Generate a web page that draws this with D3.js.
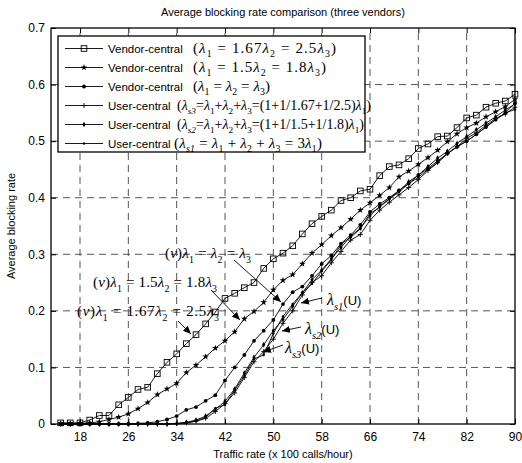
<!DOCTYPE html>
<html><head><meta charset="utf-8">
<script src="https://cdn.jsdelivr.net/npm/d3@7"></script>
<style>body{margin:0;background:#fff}</style>
</head><body>
<svg id="c" width="522" height="463" xmlns="http://www.w3.org/2000/svg"></svg>
<script>
// ---------- data ----------
const traffic = [14.8,16.4,18,19.6,21.2,22.8,24.4,26,27.6,29.2,30.8,32.4,34,35.6,37.2,38.8,40.4,42,43.6,45.2,
  46.8,48.4,50,51.6,53.2,54.8,56.4,58,59.6,61.2,62.8,64.4,66,67.6,69.2,70.8,72.4,74,75.6,77.2,78.8,80.4,82,83.6,85.2,86.8,88.4,90];
const vendor167 = [0.002,0.002,0.002,0.007,0.015,0.015,0.034,0.047,0.061,0.065,0.089,0.109,0.124,0.142,0.158,0.177,0.198,0.222,0.231,0.241,
  0.250,0.275,0.292,0.302,0.315,0.336,0.354,0.367,0.378,0.395,0.400,0.412,0.415,0.439,0.455,0.458,0.469,0.487,0.495,0.508,0.509,0.524,0.541,0.546,0.560,0.567,0.571,0.583];
const vendor15 = [0.001,0.001,0.001,0.002,0.004,0.008,0.012,0.018,0.027,0.038,0.052,0.062,0.072,0.091,0.104,0.119,0.134,0.147,0.163,0.186,
  0.199,0.215,0.237,0.254,0.264,0.283,0.302,0.317,0.333,0.347,0.362,0.378,0.391,0.404,0.418,0.437,0.447,0.459,0.471,0.484,0.499,0.513,0.524,0.532,0.543,0.552,0.561,0.574];
const vendorEq = [0,0,0,0,0,0,0,0,0.001,0.002,0.004,0.008,0.014,0.025,0.030,0.041,0.051,0.077,0.100,0.122,
  0.147,0.165,0.184,0.212,0.233,0.243,0.262,0.283,0.298,0.319,0.334,0.352,0.375,0.389,0.400,0.413,0.425,0.440,0.452,0.465,0.478,0.490,0.500,0.512,0.525,0.538,0.550,0.567];
const userS3 = [0,0,0,0,0,0,0,0,0,0,0,0,0.001,0.002,0.005,0.010,0.022,0.036,0.055,0.082,
  0.110,0.128,0.150,0.178,0.200,0.228,0.250,0.262,0.285,0.305,0.325,0.335,0.360,0.378,0.392,0.405,0.418,0.432,0.448,0.462,0.478,0.490,0.505,0.515,0.528,0.540,0.548,0.560];
const userS2 = [0,0,0,0,0,0,0,0,0,0,0,0,0.001,0.003,0.007,0.014,0.026,0.040,0.062,0.090,
  0.118,0.140,0.165,0.185,0.208,0.232,0.255,0.272,0.292,0.312,0.332,0.346,0.368,0.385,0.398,0.412,0.428,0.440,0.455,0.470,0.482,0.496,0.508,0.520,0.532,0.543,0.555,0.566];
const userS1 = [0,0,0,0,0,0,0,0,0,0,0,0,0,0.002,0.005,0.012,0.028,0.034,0.060,0.085,
  0.115,0.122,0.160,0.190,0.212,0.232,0.248,0.270,0.290,0.318,0.330,0.345,0.372,0.383,0.398,0.410,0.425,0.436,0.450,0.462,0.478,0.490,0.500,0.512,0.525,0.538,0.550,0.556];
const xTicks = [18,26,34,42,50,58,66,74,82,90];
const yTicks = [0,0.1,0.2,0.3,0.4,0.5,0.6,0.7];
const seriesNames = ["Vendor-central","Vendor-central","Vendor-central","User-central","User-central","User-central"];
const seriesFormulas = [
  "(λ_1 = 1.67λ_2 = 2.5λ_3)",
  "(λ_1 = 1.5λ_2 = 1.8λ_3)",
  "(λ_1 = λ_2 = λ_3)",
  "(λ_{s3}=λ_1+λ_2+λ_3=(1+1/1.67+1/2.5)λ_1)",
  "(λ_{s2}=λ_1+λ_2+λ_3=(1+1/1.5+1/1.8)λ_1)",
  "(λ_{s1} = λ_1 + λ_2 + λ_3 = 3λ_1)"
];
const seriesValues = [vendor167, vendor15, vendorEq, userS3, userS2, userS1];
const seriesMarkers = ["square","star","dot","plus","smalldot","tinydot"];

// ---------- layout ----------
const svg = d3.select("#c");
const L=51, R=515, T=28, B=424;
const x = d3.scaleLinear([13.2,90],[L,R]);
const y = d3.scaleLinear([0,0.7],[B,T]);
const SANS = "'Liberation Sans', Arial, sans-serif";
const SERIF = "'Liberation Serif', 'Times New Roman', serif";

svg.append("rect").attr("width",522).attr("height",463).attr("fill","#fff");

// grid
const grid = svg.append("g").attr("stroke","#555").attr("stroke-width",1).attr("stroke-dasharray","7,5");
grid.selectAll("line.gx").data(xTicks.filter(d=>d<90)).join("line")
  .attr("x1",d=>x(d)).attr("x2",d=>x(d)).attr("y1",B).attr("y2",T);
grid.selectAll("line.gy").data(yTicks.filter(d=>d>0&&d<0.7)).join("line")
  .attr("y1",d=>y(d)).attr("y2",d=>y(d)).attr("x1",L).attr("x2",R);

// axes
const fmt = d => d===0 ? "0" : d3.format(".1f")(d);
const ax = svg.append("g").attr("transform",`translate(0,${B})`)
  .call(d3.axisBottom(x).tickValues(xTicks).tickSize(-5).tickSizeOuter(0).tickPadding(8));
const ay = svg.append("g").attr("transform",`translate(${L},0)`)
  .call(d3.axisLeft(y).tickValues(yTicks).tickFormat(fmt).tickSize(-5).tickSizeOuter(0).tickPadding(6));
const at = svg.append("g").attr("transform",`translate(0,${T})`)
  .call(d3.axisTop(x).tickValues(xTicks).tickSize(-5).tickSizeOuter(0).tickFormat(""));
const ar = svg.append("g").attr("transform",`translate(${R},0)`)
  .call(d3.axisRight(y).tickValues(yTicks).tickSize(-5).tickSizeOuter(0).tickFormat(""));
[ax,ay,at,ar].forEach(g=>{
  g.select(".domain").remove();
  g.selectAll("text").attr("font-family",SANS).attr("font-size",12).attr("fill","#000");
  g.selectAll("line").attr("stroke","#000");
});
svg.append("rect").attr("x",L).attr("y",T).attr("width",R-L).attr("height",B-T)
  .attr("fill","none").attr("stroke","#000").attr("stroke-width",1.3);

// markers
function drawMarker(g, kind, cx, cy){
  if(kind==="square") g.append("rect").attr("x",cx-2.8).attr("y",cy-2.8).attr("width",5.6).attr("height",5.6)
      .attr("fill","none").attr("stroke","#000").attr("stroke-width",0.9);
  else if(kind==="star") g.append("path").attr("d",d3.symbol(d3.symbolStar,14)()).attr("transform",`translate(${cx},${cy})`).attr("fill","#000");
  else if(kind==="dot") g.append("circle").attr("cx",cx).attr("cy",cy).attr("r",1.9).attr("fill","#000");
  else if(kind==="plus") g.append("path").attr("d",`M${cx-2.5},${cy}H${cx+2.5}M${cx},${cy-2.5}V${cy+2.5}`).attr("stroke","#000").attr("stroke-width",0.9);
  else if(kind==="smalldot") g.append("path").attr("d",d3.symbol(d3.symbolDiamond,9)()).attr("transform",`translate(${cx},${cy})`).attr("fill","#000");
  else if(kind==="tinydot") g.append("circle").attr("cx",cx).attr("cy",cy).attr("r",1.2).attr("fill","#000");
}

// lines
const line = d3.line().x((d,i)=>x(traffic[i])).y(d=>y(d));
const plot = svg.append("g");
seriesValues.forEach((vals,si)=>{
  plot.append("path").datum(vals).attr("d",line).attr("fill","none").attr("stroke","#000").attr("stroke-width",0.9);
});
seriesValues.forEach((vals,si)=>{
  const g = plot.append("g");
  vals.forEach((v,i)=>drawMarker(g, seriesMarkers[si], x(traffic[i]), y(v)));
});

// rich text helper
function rich(sel, str, size){
  const toks = str.match(/λ|_\{[^}]*\}|_.|\*[^*]*\*|[^λ_*]+/g);
  let shifted = false;
  toks.forEach(t=>{
    let ts;
    if(t.startsWith("_")){
      const s = t.startsWith("_{") ? t.slice(2,-1) : t.slice(1);
      ts = sel.append("tspan").text(s).attr("font-size",size*0.66).attr("dy",shifted?0:size*0.3);
      if(/^s/.test(s)) ts.attr("font-style","italic");
      shifted = true;
    } else {
      ts = sel.append("tspan").attr("font-size",size);
      if(shifted){ ts.attr("dy",-size*0.3); shifted=false; }
      if(t==="λ") ts.text("λ").attr("font-style","italic");
      else if(t.startsWith("*")) ts.text(t.slice(1,-1)).attr("font-style","italic");
      else ts.text(t);
    }
  });
  return sel;
}

// legend
const lg = svg.append("g");
lg.append("rect").attr("x",58).attr("y",36).attr("width",307).attr("height",116)
  .attr("fill","#fff").attr("stroke","#000").attr("stroke-width",1.3);
const rowY = [48.5,67.5,86.5,105.5,124.5,143.5];
const fx = [193,193,193,177,177,174];
const fw = [143,133,77,0,0,148];
const fs = [15,15,15,14,14,15];
seriesNames.forEach((nm,i)=>{
  const yy = rowY[i];
  lg.append("line").attr("x1",65).attr("x2",103).attr("y1",yy).attr("y2",yy).attr("stroke","#000").attr("stroke-width",0.9);
  drawMarker(lg, seriesMarkers[i], 84, yy);
  lg.append("text").attr("x",108).attr("y",yy+4).attr("font-family",SANS).attr("font-size",11.5).text(nm);
  const t = lg.append("text").attr("x",fx[i]).attr("y",yy+4).attr("font-family",SERIF);
  if(fw[i]) t.attr("textLength",fw[i]).attr("lengthAdjust","spacing");
  rich(t, seriesFormulas[i], fs[i]);
});

// annotations
svg.append("defs").append("marker").attr("id","ah").attr("markerUnits","userSpaceOnUse")
  .attr("markerWidth",9).attr("markerHeight",7).attr("refX",8).attr("refY",3.5).attr("orient","auto")
  .append("path").attr("d","M0,0L8,3.5L0,7Z").attr("fill","#000");
const notes = [
  {t:"(*v*)λ_1 = λ_2 = λ_3", tx:165, ty:258, w:86, x1:234, y1:260, x2:281, y2:302},
  {t:"(*v*)λ_1 = 1.5λ_2 = 1.8λ_3", tx:93, ty:287, w:124, x1:211, y1:290, x2:240, y2:320},
  {t:"(*v*)λ_1 = 1.67λ_2 = 2.5λ_3", tx:77, ty:316, w:142, x1:178, y1:321, x2:191, y2:334},
];
notes.forEach(n=>{
  svg.append("line").attr("x1",n.x1).attr("y1",n.y1).attr("x2",n.x2).attr("y2",n.y2)
    .attr("stroke","#000").attr("stroke-width",0.9).attr("marker-end","url(#ah)");
  rich(svg.append("text").attr("x",n.tx).attr("y",n.ty).attr("font-family",SERIF)
    .attr("textLength",n.w).attr("lengthAdjust","spacing"), n.t, 15);
});
const unotes = [
  {t:"λ_{s1}", tx:327, ty:305, x1:322, y1:298, x2:301, y2:303},
  {t:"λ_{s2}", tx:305, ty:334, x1:301, y1:327, x2:282, y2:331},
  {t:"λ_{s3}", tx:285, ty:353, x1:283, y1:345, x2:263, y2:352},
];
unotes.forEach(n=>{
  svg.append("line").attr("x1",n.x1).attr("y1",n.y1).attr("x2",n.x2).attr("y2",n.y2)
    .attr("stroke","#000").attr("stroke-width",0.9).attr("marker-end","url(#ah)");
  const t = svg.append("text").attr("x",n.tx).attr("y",n.ty).attr("font-family",SERIF);
  rich(t, n.t, 16);
  t.append("tspan").attr("dy",-16*0.3).attr("font-family",SANS).attr("font-size",13).text("(U)");
});

// titles
svg.append("text").attr("x",283).attr("y",16).attr("text-anchor","middle").attr("font-family",SANS)
  .attr("font-size",11).text("Average blocking rate comparison (three vendors)");
svg.append("text").attr("x",283).attr("y",458).attr("text-anchor","middle").attr("font-family",SANS)
  .attr("font-size",11).text("Traffic rate (x 100 calls/hour)");
svg.append("text").attr("transform","translate(15,226) rotate(-90)").attr("text-anchor","middle")
  .attr("font-family",SANS).attr("font-size",11).text("Average blocking rate");
</script>
</body></html>
